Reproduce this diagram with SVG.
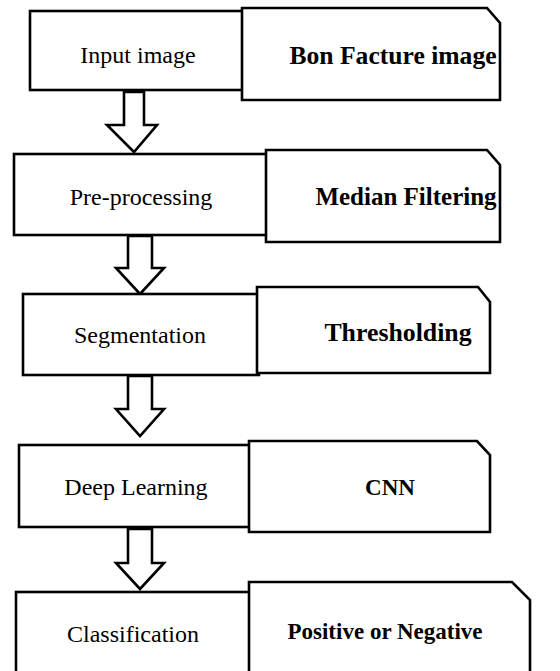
<svg xmlns="http://www.w3.org/2000/svg" width="560" height="671" viewBox="0 0 560 671">
  <style>
    .box { fill: #fff; stroke: #000; stroke-width: 2.6; }
    .arrow { fill: #fff; stroke: #000; stroke-width: 2.6; stroke-linejoin: miter; }
    .step { font-family: "Liberation Serif", "Times New Roman", serif; font-size: 24px; fill: #000; text-anchor: middle; }
    .method { font-family: "Liberation Serif", "Times New Roman", serif; font-size: 25px; font-weight: bold; fill: #000; text-anchor: middle; }
  </style>
  <rect width="560" height="671" fill="#fff"/>

  <!-- block arrows between the steps -->
  <g id="connectors">
    <polygon class="arrow" points="124,92 144,92 144,125 157,125 134,152 107,125 124,125"/>
    <polygon class="arrow" points="128,236 152,236 152,268 164,268 140,294 116,268 128,268"/>
    <polygon class="arrow" points="128,376 152,376 152,409 164,409 140,436 116,409 128,409"/>
    <polygon class="arrow" points="128,529 152,529 152,563 164,563 140,589 116,563 128,563"/>
  </g>

  <g id="input-image">
    <rect class="box" x="30" y="11" width="222" height="79"/>
    <text class="step" x="138" y="63">Input image</text>
  </g>
  <g id="bone-fracture-image">
    <path class="box" d="M242,8 H487 L500,23 V100 H242 Z"/>
    <text class="method" x="393" y="64" style="font-size:25.6px">Bon Facture image</text>
  </g>

  <g id="pre-processing">
    <rect class="box" x="14" y="154" width="262" height="81"/>
    <text class="step" x="141" y="205">Pre-processing</text>
  </g>
  <g id="median-filtering">
    <path class="box" d="M266,150 H487 L500,165 V242 H266 Z"/>
    <text class="method" x="406" y="205">Median Filtering</text>
  </g>

  <g id="segmentation">
    <rect class="box" x="23" y="294" width="236" height="81"/>
    <text class="step" x="140" y="343">Segmentation</text>
  </g>
  <g id="thresholding">
    <path class="box" d="M257,287 H478 L490,302 V373 H257 Z"/>
    <text class="method" x="398" y="341" style="font-size:25.8px">Thresholding</text>
  </g>

  <g id="deep-learning">
    <rect class="box" x="19" y="445" width="240" height="82"/>
    <text class="step" x="136" y="495">Deep Learning</text>
  </g>
  <g id="cnn">
    <path class="box" d="M249,441 H477 L490,455 V532 H249 Z"/>
    <text class="method" x="390" y="495" style="font-size:23px">CNN</text>
  </g>

  <g id="classification">
    <rect class="box" x="16" y="592" width="243" height="100"/>
    <text class="step" x="133" y="642">Classification</text>
  </g>
  <g id="positive-or-negative">
    <path class="box" d="M249,582 H512 L530,600 V690 H249 Z"/>
    <text class="method" x="385" y="639" style="font-size:23px">Positive or Negative</text>
  </g>
</svg>
